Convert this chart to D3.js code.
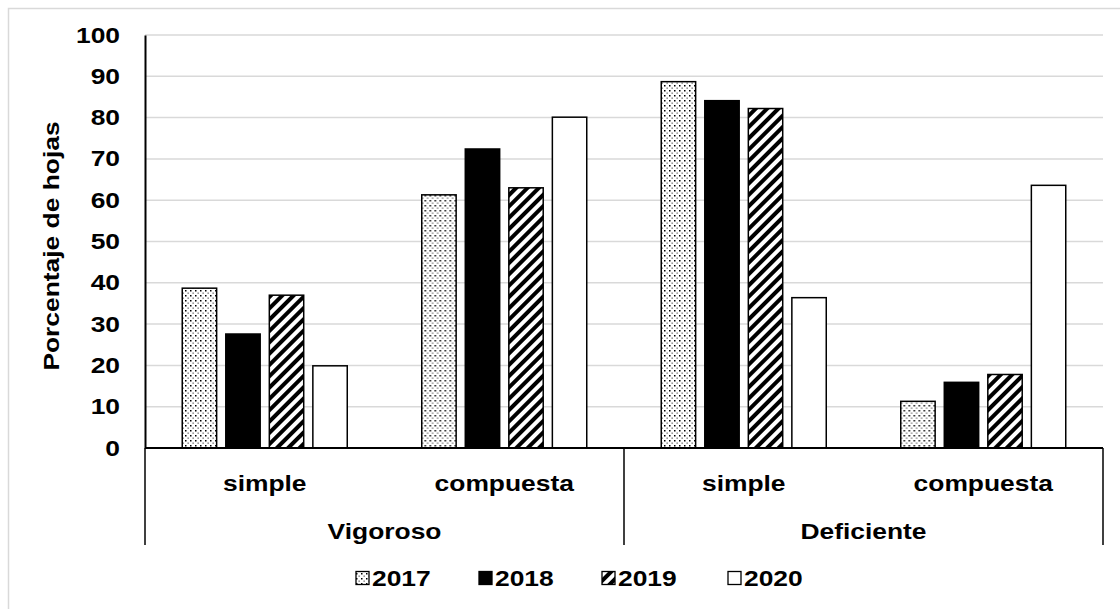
<!DOCTYPE html>
<html>
<head>
<meta charset="utf-8">
<script src="https://cdn.jsdelivr.net/npm/d3@7"></script>
<style>
  html, body { margin: 0; padding: 0; background: #fff; }
  svg { display: block; font-family: "Liberation Sans", Arial, sans-serif; font-weight: bold; }
</style>
</head>
<body>
<svg id="chart" width="1120" height="609"></svg>
<script>
// Leaf-type percentages by plant vigour and year
const groups = ["Vigoroso", "Deficiente"];
const leafTypes = ["simple", "compuesta"];
const years = ["2017", "2018", "2019", "2020"];
const vigorosoSimple = [38.7, 27.6, 37.0, 19.9];
const vigorosoCompuesta = [61.3, 72.4, 63.0, 80.1];
const deficienteSimple = [88.7, 84.1, 82.2, 36.4];
const deficienteCompuesta = [11.3, 15.9, 17.8, 63.6];
const yTicks = [0, 10, 20, 30, 40, 50, 60, 70, 80, 90, 100];
const yLabel = "Porcentaje de hojas";

const cells = [
  { group: "Vigoroso", leaf: "simple", values: vigorosoSimple },
  { group: "Vigoroso", leaf: "compuesta", values: vigorosoCompuesta },
  { group: "Deficiente", leaf: "simple", values: deficienteSimple },
  { group: "Deficiente", leaf: "compuesta", values: deficienteCompuesta }
];
cells.forEach((c, i) => c.key = i);

const svg = d3.select("#chart");
const plotLeft = 145, plotRight = 1103, plotTop = 35, plotBottom = 448;
const fontSize = 22;
const wide = 1.2; // horizontal stretch applied to all labels

// fill patterns
const defs = svg.append("defs");
const dots = defs.append("pattern").attr("id", "dots")
  .attr("patternUnits", "userSpaceOnUse").attr("width", 5).attr("height", 5);
dots.append("rect").attr("width", 5).attr("height", 5).attr("fill", "#fff");
dots.append("rect").attr("x", 0).attr("y", 0).attr("width", 1.5).attr("height", 1.5).attr("fill", "#000");
dots.append("rect").attr("x", 2.5).attr("y", 2.5).attr("width", 1.3).attr("height", 1.3).attr("fill", "#666");

const stripes = defs.append("pattern").attr("id", "stripes")
  .attr("patternUnits", "userSpaceOnUse").attr("width", 8).attr("height", 8)
  .attr("patternTransform", "rotate(45)");
stripes.append("rect").attr("width", 8).attr("height", 8).attr("fill", "#fff");
stripes.append("rect").attr("x", 0).attr("y", 0).attr("width", 4).attr("height", 8).attr("fill", "#000");

const fills = { "2017": "url(#dots)", "2018": "#000", "2019": "url(#stripes)", "2020": "#fff" };

// outer frame
svg.append("rect").attr("x", 8.5).attr("y", 8.5).attr("width", 1200).attr("height", 700)
  .attr("fill", "none").attr("stroke", "#d9d9d9").attr("stroke-width", 1.5);

const y = d3.scaleLinear().domain([0, 100]).range([plotBottom, plotTop]);
const x0 = d3.scaleBand().domain(cells.map(c => c.key)).range([plotLeft, plotRight]).padding(0);
const cw = x0.bandwidth();
const span = 165;
const x1 = d3.scaleBand().domain(years).range([(cw - span) / 2, (cw + span) / 2]).paddingInner(0.21);

// text placed at (x, y) and stretched horizontally
function label(parent, x, yPos, str, anchor, extra) {
  return parent.append("text")
    .attr("transform", `translate(${x},${yPos}) ${extra || ""} scale(${wide},1)`)
    .attr("text-anchor", anchor).attr("dy", "0.35em")
    .attr("font-size", fontSize).attr("fill", "#000").text(str);
}

// gridlines
svg.append("g").selectAll("line").data(yTicks.filter(t => t > 0)).join("line")
  .attr("x1", plotLeft).attr("x2", plotRight)
  .attr("y1", d => y(d)).attr("y2", d => y(d))
  .attr("stroke", "#d9d9d9").attr("stroke-width", 1.5);

// y axis
const yAxis = d3.axisLeft(y).tickValues(yTicks).tickSize(0);
const gy = svg.append("g").attr("transform", `translate(${plotLeft},0)`).call(yAxis);
gy.select(".domain").attr("stroke", "#000").attr("stroke-width", 2);
gy.selectAll("text").attr("font-size", fontSize).attr("font-family", "Liberation Sans, Arial, sans-serif")
  .attr("font-weight", "bold").attr("fill", "#000")
  .attr("x", -25 / wide).attr("transform", `scale(${wide},1)`);

label(svg, 51, 246, yLabel, "middle", "rotate(-90)");

// bars
const cg = svg.append("g").selectAll("g").data(cells).join("g")
  .attr("transform", d => `translate(${x0(d.key)},0)`);
cg.selectAll("rect").data(d => d.values.map((v, i) => ({ year: years[i], v }))).join("rect")
  .attr("x", d => x1(d.year)).attr("width", x1.bandwidth())
  .attr("y", d => y(d.v)).attr("height", d => y(0) - y(d.v))
  .attr("fill", d => fills[d.year]).attr("stroke", "#000").attr("stroke-width", 1.5);

// baseline
svg.append("line").attr("x1", plotLeft).attr("x2", plotRight).attr("y1", plotBottom).attr("y2", plotBottom)
  .attr("stroke", "#000").attr("stroke-width", 2);

// multi-level category axis
const groupScale = d3.scaleBand().domain(groups).range([plotLeft, plotRight]);
svg.append("g").selectAll("line").data([plotLeft, plotLeft + groupScale.bandwidth(), plotRight]).join("line")
  .attr("x1", d => d).attr("x2", d => d).attr("y1", plotBottom).attr("y2", 545)
  .attr("stroke", "#000").attr("stroke-width", 1.5);
const leafG = svg.append("g");
cells.forEach(d => label(leafG, x0(d.key) + cw / 2, 483, d.leaf, "middle"));
const groupG = svg.append("g");
groups.forEach(g => label(groupG, groupScale(g) + groupScale.bandwidth() / 2, 531, g, "middle"));

// legend
const legendX = [356, 479, 602, 728];
const lg = svg.append("g").selectAll("g").data(years).join("g")
  .attr("transform", (d, i) => `translate(${legendX[i]},578)`);
lg.append("rect").attr("x", 0).attr("y", -6.5).attr("width", 13).attr("height", 13)
  .attr("fill", d => fills[d]).attr("stroke", "#000").attr("stroke-width", 1.3);
lg.each(function (d) { label(d3.select(this), 16, 0, d, "start"); });
</script>
</body>
</html>
